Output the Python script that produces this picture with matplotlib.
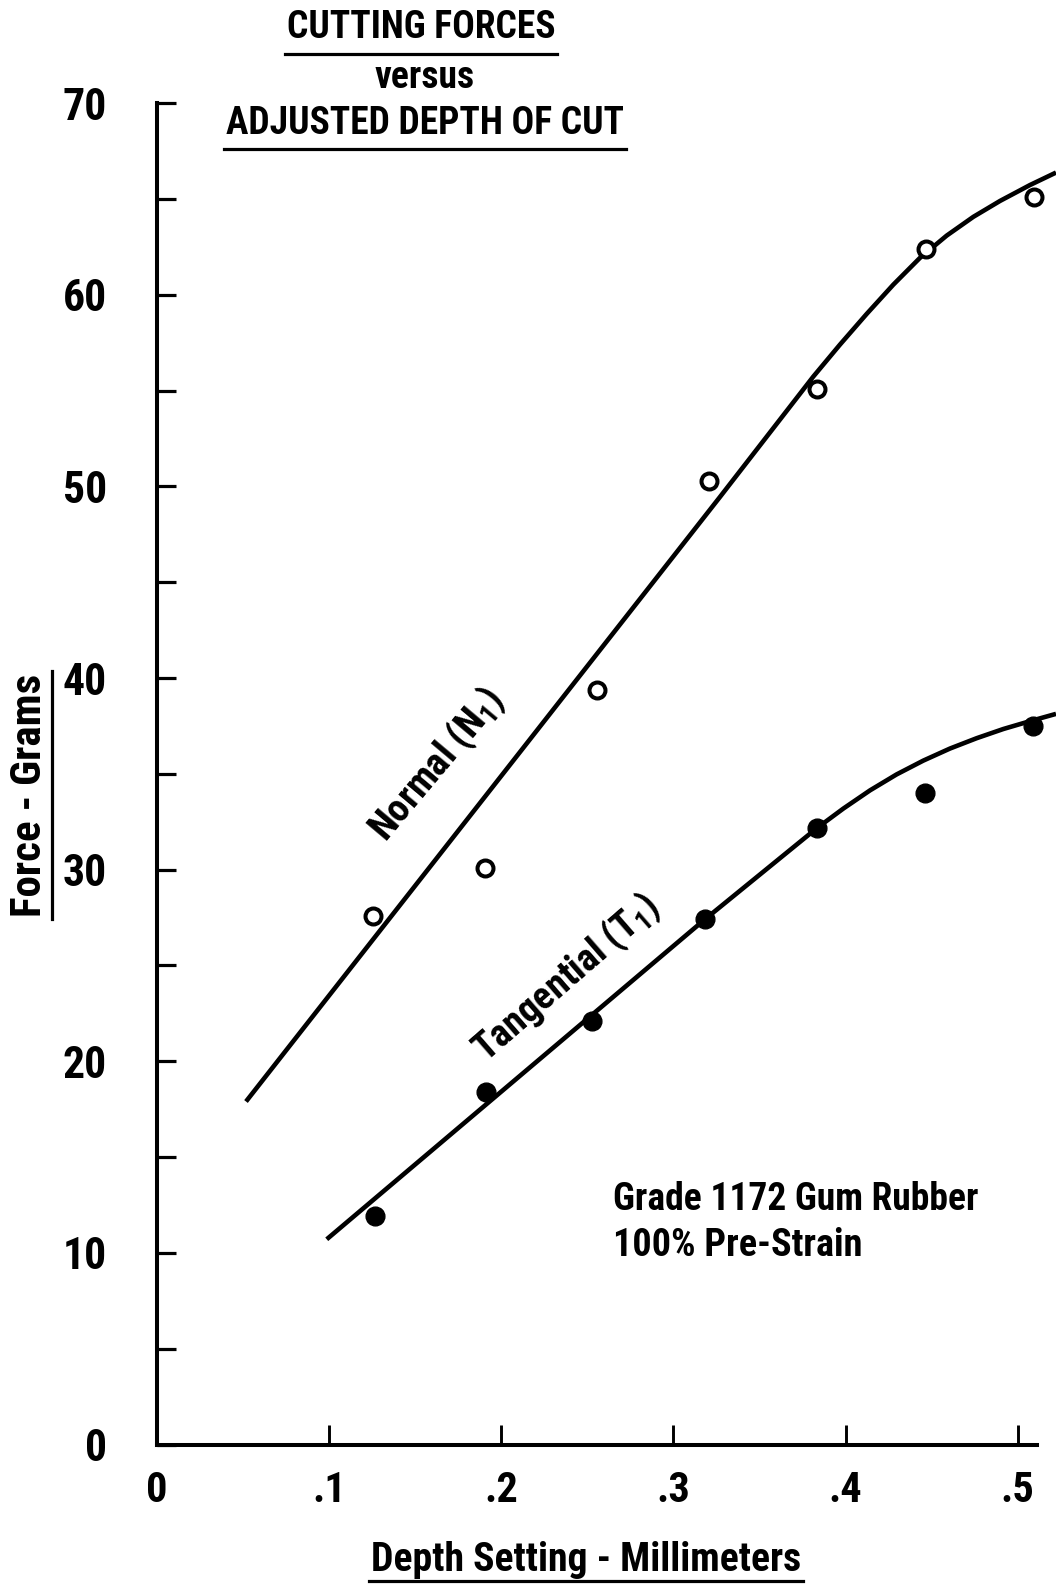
import os
import matplotlib
matplotlib.use('Agg')
import matplotlib.pyplot as plt
from matplotlib import font_manager as fm
from matplotlib.font_manager import FontProperties
from matplotlib.lines import Line2D
from matplotlib.ticker import MultipleLocator

# measured cutting forces (grams) at each depth setting (mm)
depth_normal = [0.1257, 0.1905, 0.2554, 0.3206, 0.3832, 0.4467, 0.5094]
force_normal = [27.6, 30.1, 39.4, 50.3, 55.1, 62.4, 65.1]
depth_tang = [0.1266, 0.1910, 0.2525, 0.3183, 0.3832, 0.4461, 0.5090]
force_tang = [11.9, 18.4, 22.1, 27.4, 32.2, 34.0, 37.5]

# faired curves drawn through the data
fit_normal_x = [0.0517, 0.327, 0.3812, 0.3967, 0.4122, 0.4277, 0.4432, 0.4587,
                0.4742, 0.4897, 0.5071, 0.5222]
fit_normal_y = [17.9, 49.45, 55.73, 57.40, 59.00, 60.53, 61.93, 63.09,
                64.07, 64.90, 65.73, 66.38]
fit_tang_x = [0.0986, 0.3183, 0.3832, 0.3987, 0.4142, 0.4296, 0.4451, 0.4606,
              0.4761, 0.4916, 0.5071, 0.5222]
fit_tang_y = [10.71, 27.41, 32.16, 33.19, 34.14, 34.97, 35.69, 36.32,
              36.86, 37.34, 37.75, 38.13]

yticks = [0, 10, 20, 30, 40, 50, 60, 70]
xticks = [0, 0.1, 0.2, 0.3, 0.4, 0.5]
xticklabels = ['0', '.1', '.2', '.3', '.4', '.5']


def condensed_font():
    # prefer a narrow sans face, whichever one is installed
    names = {f.name for f in fm.fontManager.ttflist}
    for n in ['DejaVu Sans Condensed', 'Liberation Sans Narrow', 'Noto Sans Condensed',
              'Roboto Condensed', 'Open Sans Condensed']:
        if n in names:
            return {'family': [n, 'DejaVu Sans']}
    for n in ['DejaVu Sans', 'Noto Sans', 'Open Sans', 'Roboto']:
        p = fm.findfont(FontProperties(family=n, stretch='condensed'))
        if 'ondensed' in os.path.basename(p):
            return {'family': [n], 'stretch': 'condensed'}
    return {'family': ['DejaVu Sans']}


cf = condensed_font()
W, H = 1056, 1586
plt.rcParams['mathtext.fontset'] = 'custom'
plt.rcParams['mathtext.rm'] = cf['family'][0] + ':bold'

fig = plt.figure(figsize=(W / 100, H / 100), dpi=100)
ax = fig.add_axes([157 / W, (H - 1444.5) / H, 899 / W, (1444.5 - 103.2) / H])
ax.set_xlim(0, 0.5222)
ax.set_ylim(0, 70)

ax.plot(fit_normal_x, fit_normal_y, color='black', lw=3.3, solid_capstyle='butt',
        solid_joinstyle='round')
ax.plot(fit_tang_x, fit_tang_y, color='black', lw=3.3, solid_capstyle='butt',
        solid_joinstyle='round')
ax.plot(depth_normal, force_normal, 'o', ms=11.5, mfc='white', mec='black', mew=2.9)
ax.plot(depth_tang, force_tang, 'o', ms=13.5, mfc='black', mec='black')

for s in ['top', 'right']:
    ax.spines[s].set_visible(False)
for s in ['left', 'bottom']:
    ax.spines[s].set_linewidth(2.9)
    ax.spines[s].set_capstyle('projecting')
ax.spines['bottom'].set_bounds(0, 0.511)

ax.set_yticks(yticks)
ax.set_yticklabels([str(v) for v in yticks])
ax.yaxis.set_minor_locator(MultipleLocator(5))
ax.set_xticks(xticks)
ax.set_xticklabels(xticklabels)
ax.tick_params(axis='y', which='both', direction='in', length=14, width=2.3, pad=36)
ax.tick_params(axis='x', which='both', direction='in', length=14.5, width=2.1, pad=18)
for lab in ax.get_yticklabels():
    lab.set_fontproperties(FontProperties(size=31.5, weight='bold', **cf))
for lab in ax.get_xticklabels():
    lab.set_fontproperties(FontProperties(size=30.5, weight='bold', **cf))

# curve labels
ax.text(0.1629, 35.46, r'Normal (N$_\mathregular{1}$)', rotation=50, rotation_mode='anchor',
        ha='center', va='center', fontsize=28, weight='bold', **cf)
ax.text(0.2376, 24.32, r'Tangential (T$_\mathregular{1}$)', rotation=41, rotation_mode='anchor',
        ha='center', va='center', fontsize=27.5, weight='bold', **cf)

ax.text(0.2649, 12.81, 'Grade 1172 Gum Rubber', ha='left', va='center', fontsize=27,
        weight='bold', **cf)
ax.text(0.2649, 10.36, '100% Pre-Strain', ha='left', va='center', fontsize=27.5,
        weight='bold', **cf)

# title block and axis titles
t1 = fig.text(421 / W, 1 - 28 / H, 'CUTTING FORCES', ha='center', va='center',
              fontsize=27, weight='bold', **cf)
fig.text(425 / W, 1 - 77 / H, 'versus', ha='center', va='center', fontsize=27,
         weight='bold', **cf)
t3 = fig.text(425 / W, 1 - 123 / H, 'ADJUSTED DEPTH OF CUT', ha='center', va='center',
              fontsize=27, weight='bold', **cf)
xl = fig.text(586 / W, 1 - 1560 / H, 'Depth Setting - Millimeters', ha='center', va='center',
              fontsize=28.5, weight='bold', **cf)
yl = fig.text(30 / W, 1 - 795 / H, 'Force - Grams', ha='center', va='center', rotation=90,
              fontsize=31, weight='bold', **cf)

# underline the headings
fig.canvas.draw()
r = fig.canvas.get_renderer()
for t, gap in [(t1, 7), (t3, 7), (xl, 2)]:
    bb = t.get_window_extent(r)
    y = bb.y0 - gap
    fig.add_artist(Line2D([(bb.x0 - 2) / W, (bb.x1 + 2) / W], [y / H, y / H],
                          transform=fig.transFigure, color='black', lw=2.3))
bb = yl.get_window_extent(r)
x = bb.x1 + 1
fig.add_artist(Line2D([x / W, x / W], [(bb.y0 - 2) / H, (bb.y1 + 2) / H],
                      transform=fig.transFigure, color='black', lw=2.3))

fig.savefig('out.png', dpi=100, facecolor='white')
